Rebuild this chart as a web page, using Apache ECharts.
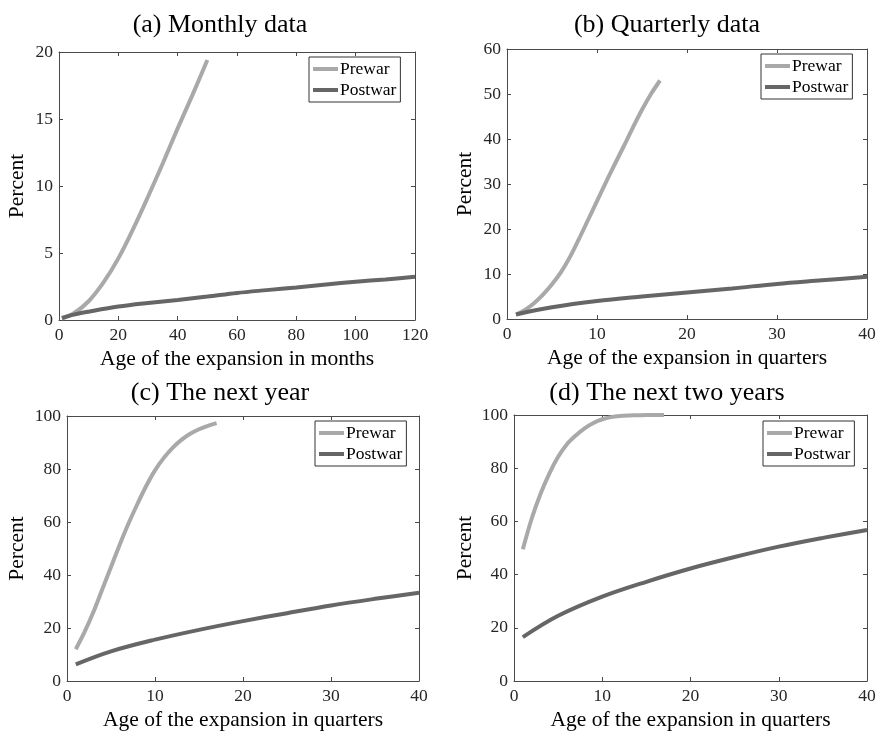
<!DOCTYPE html>
<html>
<head>
<meta charset="utf-8">
<script src="https://cdn.jsdelivr.net/npm/echarts@6/dist/echarts.min.js"></script>
<style>
html,body{margin:0;padding:0;background:#fff;}
#chart{width:879px;height:733px;}
</style>
</head>
<body>
<div id="chart"></div>
<script>
// ---------- data ----------
const panelTitles = ['(a) Monthly data', '(b) Quarterly data', '(c) The next year', '(d) The next two years'];
const xAxisNames = ['Age of the expansion in months', 'Age of the expansion in quarters', 'Age of the expansion in quarters', 'Age of the expansion in quarters'];
const yAxisName = 'Percent';
const seriesNames = ['Prewar', 'Postwar'];

// (a) monthly
const monthsPrewar = [1, 5, 10, 15, 20, 25, 30, 35, 40, 45, 50];
const monthlyPrewar = [0.1, 0.5, 1.4, 2.8, 4.6, 6.8, 9.2, 11.7, 14.3, 16.8, 19.4];
const monthsPostwar = [1, 5, 10, 20, 30, 40, 50, 60, 70, 80, 90, 100, 110, 120];
const monthlyPostwar = [0.15, 0.4, 0.62, 1.0, 1.27, 1.5, 1.75, 2.02, 2.23, 2.43, 2.65, 2.85, 3.03, 3.22];

// (b) quarterly
const quartersPrewar = [1, 2, 3, 4, 5, 6, 7, 8, 9, 10, 11, 12, 13, 14, 15, 16, 17];
const quarterlyPrewar = [1.0, 2.0, 3.5, 5.4, 7.7, 10.4, 13.8, 17.8, 22.0, 26.2, 30.4, 34.5, 38.5, 42.6, 46.5, 50.0, 53.0];
const quartersPostwar = [1, 5, 10, 15, 20, 25, 30, 35, 40];
const quarterlyPostwar = [1.0, 2.6, 4.0, 5.0, 5.9, 6.8, 7.8, 8.6, 9.4];

// (c) next year
const nextYearPrewar = [12, 18.5, 26, 34.5, 43, 51.5, 59.5, 66.8, 73.6, 79.5, 84.2, 88, 91, 93.3, 95, 96.3, 97.3];
const nextYearPostwar = [6.3, 11.2, 15.6, 19.3, 22.6, 25.6, 28.5, 31, 33.3];

// (d) next two years
const nextTwoYearsPrewar = [49.5, 61, 70.3, 78, 84.3, 89, 92.3, 95, 97, 98.4, 99.2, 99.6, 99.8, 99.9, 100, 100, 100];
const nextTwoYearsPostwar = [16.5, 24.5, 31.7, 37.3, 42.3, 46.6, 50.5, 53.8, 56.8];

// axis ranges
const xRanges = [[0, 120, 20], [0, 40, 10], [0, 40, 10], [0, 40, 10]];
const yRanges = [[0, 20, 5], [0, 60, 10], [0, 100, 20], [0, 100, 20]];

// ---------- layout / style ----------
const grids = [
  {left: 59, top: 52, width: 356, height: 268},
  {left: 507, top: 49, width: 360, height: 270},
  {left: 67, top: 416, width: 352, height: 265},
  {left: 514, top: 415, width: 353, height: 266}
];
const titlePos = [[220, 12], [667, 12], [220, 380], [667, 380]];
const legendPos = [[309, 57], [761, 54], [315, 421], [763, 421]];
const yNameGaps = [31, 31, 39, 38];

const FONT = 'Liberation Serif';
const AXIS_COLOR = '#4a4a4a';
const colors = ['#a9a9a9', '#666666'];

const pairs = (xs, ys) => xs.map((x, i) => [x, ys[i]]);
const panelData = [
  [pairs(monthsPrewar, monthlyPrewar), pairs(monthsPostwar, monthlyPostwar)],
  [pairs(quartersPrewar, quarterlyPrewar), pairs(quartersPostwar, quarterlyPostwar)],
  [pairs(quartersPrewar, nextYearPrewar), pairs(quartersPostwar, nextYearPostwar)],
  [pairs(quartersPrewar, nextTwoYearsPrewar), pairs(quartersPostwar, nextTwoYearsPostwar)]
];

const option = {
  backgroundColor: '#ffffff',
  animation: false,
  title: [], legend: [], grid: [], xAxis: [], yAxis: [], series: []
};

const baseAxis = (range, position, showLabel) => ({
  type: 'value',
  position: position,
  min: range[0], max: range[1], interval: range[2],
  axisLine: {show: true, onZero: false, lineStyle: {color: AXIS_COLOR, width: 1}},
  axisTick: {show: true, inside: true, length: 4, lineStyle: {color: AXIS_COLOR}},
  axisLabel: {show: showLabel, fontFamily: FONT, fontSize: 17.5, color: '#262626', margin: 6},
  splitLine: {show: false}
});

for (let i = 0; i < 4; i++) {
  option.grid.push(Object.assign({containLabel: false}, grids[i]));
  option.title.push({
    text: panelTitles[i], left: titlePos[i][0], top: titlePos[i][1], textAlign: 'center', padding: 0,
    textStyle: {fontFamily: FONT, fontSize: 26, fontWeight: 'normal', color: '#000'}
  });
  option.legend.push({
    data: seriesNames, orient: 'vertical', left: legendPos[i][0], top: legendPos[i][1],
    icon: 'rect', itemWidth: 25, itemHeight: 4, itemGap: 3, padding: [3, 4, 3, 4],
    borderColor: '#333', borderWidth: 1, backgroundColor: '#fff',
    textStyle: {fontFamily: FONT, fontSize: 17.5, color: '#000', padding: [0, 0, 0, -3]}
  });
  const xb = baseAxis(xRanges[i], 'bottom', true);
  xb.gridIndex = i;
  xb.name = xAxisNames[i];
  xb.nameLocation = 'middle';
  xb.nameGap = 28;
  xb.nameTextStyle = {fontFamily: FONT, fontSize: 21.5, color: '#000'};
  const xt = baseAxis(xRanges[i], 'top', false);
  xt.gridIndex = i;
  const yl = baseAxis(yRanges[i], 'left', true);
  yl.gridIndex = i;
  yl.name = yAxisName;
  yl.nameLocation = 'middle';
  yl.nameRotate = 90;
  yl.nameGap = yNameGaps[i];
  yl.nameTextStyle = {fontFamily: FONT, fontSize: 21.5, color: '#000'};
  const yr = baseAxis(yRanges[i], 'right', false);
  yr.gridIndex = i;
  option.xAxis.push(xb, xt);
  option.yAxis.push(yl, yr);
  for (let s = 0; s < 2; s++) {
    option.series.push({
      name: seriesNames[s], type: 'line', xAxisIndex: 2 * i, yAxisIndex: 2 * i,
      data: panelData[i][s], showSymbol: false, smooth: 0.35,
      lineStyle: {color: colors[s], width: 4}, itemStyle: {color: colors[s]},
      clip: false
    });
  }
}

const chart = echarts.init(document.getElementById('chart'));
chart.setOption(option);
</script>
</body>
</html>
